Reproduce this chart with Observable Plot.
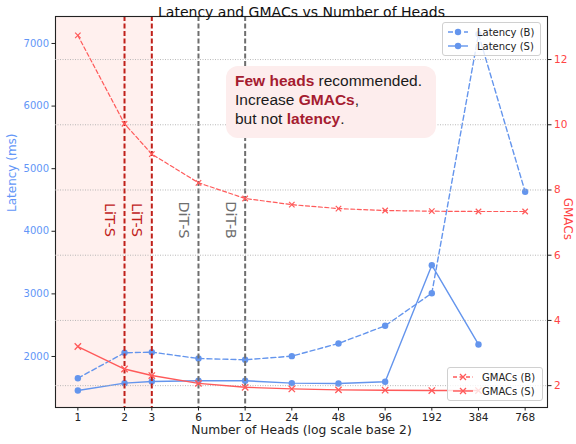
<!DOCTYPE html>
<html>
<head>
<meta charset="utf-8">
<script src="https://cdn.jsdelivr.net/npm/d3@7"></script>
<script src="https://cdn.jsdelivr.net/npm/@observablehq/plot@0.6"></script>
<style>
  html, body { margin: 0; padding: 0; background: white; }
  #wrap { position: relative; width: 576px; height: 444px; font-family: "DejaVu Sans", sans-serif; overflow: hidden; }
  #wrap > svg { position: absolute; left: 0; top: 0; }
  .legend { position: absolute; background: rgba(255,255,255,0.8); border: 1px solid #d0d0d0; border-radius: 3px;
            font: 10px "DejaVu Sans", sans-serif; color: #222; box-sizing: border-box; padding: 2px 4px; }
  .legend .row { display: flex; align-items: center; height: 14px; }
  .legend svg { margin-right: 8px; }
  #note { position: absolute; left: 226px; top: 66px; width: 210px; height: 72px; border-radius: 12px;
          background: #fdeded; box-sizing: border-box; padding: 5px 0 0 9px;
          font: 15.5px "Liberation Sans", Arial, sans-serif; line-height: 19px; color: #1a1a1a; }
  #note b { color: #a51c30; }
</style>
</head>
<body>
<div id="wrap"></div>
<script>
// ---- data ----
const heads     = [1, 2, 3, 6, 12, 24, 48, 96, 192, 384, 768];
const latencyB  = [1653, 2059, 2069, 1968, 1947, 2005, 2208, 2490, 3011, 7150, 4631];
const headsS    = [1, 2, 3, 6, 12, 24, 48, 96, 192, 384];
const latencyS  = [1457, 1574, 1601, 1612, 1612, 1574, 1569, 1596, 3459, 2192];
const gmacsB    = [12.74, 10.03, 9.1, 8.22, 7.74, 7.55, 7.43, 7.37, 7.35, 7.34, 7.34];
const gmacsS    = [3.2, 2.51, 2.31, 2.07, 1.95, 1.9, 1.87, 1.86, 1.85, 1.85];
const latTicks  = [2000, 3000, 4000, 5000, 6000, 7000];
const gmacTicks = [2, 4, 6, 8, 10, 12];
const modelX      = [2, 3, 6, 12];
const modelLabels = ["LiT-S", "LiT-S", "DiT-S", "DiT-B"];
const modelKinds  = ["lit", "lit", "dit", "dit"];
const shadeUpTo = 3;

// ---- tables ----
const latB = heads.map((h, i) => ({h, v: latencyB[i]}));
const latS = headsS.map((h, i) => ({h, v: latencyS[i]}));
const gB = heads.map((h, i) => ({h, v: gmacsB[i]}));
const gS = headsS.map((h, i) => ({h, v: gmacsS[i]}));
const models = modelX.map((x, i) => ({x, label: modelLabels[i], kind: modelKinds[i]}));

const BLUE = "#6495ED", BLUE_T = "#6296f7", RED = "#ff5a5a", RED_T = "#ff4444";
const DARKRED = "#c0201a", GREY = "#6e6e6e";
const W = 576, H = 444;
const M = {marginLeft: 55, marginRight: 29, marginTop: 16, marginBottom: 37};
const xDomain = [2 ** -0.479, 2 ** 10.064];
const xScale = {type: "log", base: 2, domain: xDomain, label: null};
const font = {fontFamily: "DejaVu Sans, sans-serif", fontSize: "10px", overflow: "visible"};

const plotLat = Plot.plot({
  width: W, height: H, ...M,
  style: {...font, background: "transparent"},
  x: xScale,
  y: {domain: [1185, 7431], label: null},
  color: {domain: ["lit", "dit"], range: [DARKRED, GREY]},
  marks: [
    Plot.rect([{x1: xDomain[0], x2: shadeUpTo}], {x1: "x1", x2: "x2", fill: "#fff0ee"}),
    Plot.line(latB, {x: "h", y: "v", stroke: BLUE, strokeWidth: 1.4, strokeDasharray: "5,3"}),
    Plot.dot(latB, {x: "h", y: "v", fill: BLUE, r: 3.2}),
    Plot.line(latS, {x: "h", y: "v", stroke: BLUE, strokeWidth: 1.4}),
    Plot.dot(latS, {x: "h", y: "v", fill: BLUE, r: 3.2}),
    Plot.ruleX(models, {x: "x", stroke: "kind", strokeWidth: 2, strokeDasharray: "5,2.5"}),
    Plot.text(models, {x: "x", frameAnchor: "middle", dx: -15, dy: 8, text: "label", rotate: 90,
      fill: "kind", fontSize: 14.5, fontFamily: "DejaVu Sans, sans-serif"}),
    Plot.axisY(latTicks, {anchor: "left", label: null, tickSize: 3.5, tickPadding: 3, stroke: "#222", fill: BLUE_T, fontSize: 10, tickFormat: d => String(d)}),
    Plot.axisX(heads, {anchor: "bottom", label: null, tickSize: 3.5, tickPadding: 3, stroke: "#222", fill: "#222", fontSize: 10.5, tickFormat: d => String(d)}),
    Plot.frame({stroke: "#222", strokeWidth: 1.1}),
    Plot.text(["Latency (ms)"], {frameAnchor: "left", dx: -43, rotate: -90, fill: BLUE_T, fontSize: 12}),
    Plot.text(["Number of Heads (log scale base 2)"], {frameAnchor: "bottom", dy: 26, fill: "#222", fontSize: 12.3}),
    Plot.text(["Latency and GMACs vs Number of Heads"], {frameAnchor: "top", dy: -9, fill: "#111", fontSize: 14})
  ]
});

const plotGmac = Plot.plot({
  width: W, height: H, ...M,
  style: {...font, background: "transparent", pointerEvents: "none"},
  x: {...xScale, axis: null},
  y: {domain: [1.33, 13.32], label: null},
  marks: [
    Plot.ruleY(gmacTicks, {stroke: "#b0b0b0", strokeWidth: 0.9, strokeDasharray: "1,1.5"}),
    Plot.line(gB, {x: "h", y: "v", stroke: RED, strokeWidth: 1.2, strokeDasharray: "4,2.5"}),
    Plot.dot(gB, {x: "h", y: "v", symbol: "times", stroke: RED, r: 2.6, strokeWidth: 1.2}),
    Plot.line(gS, {x: "h", y: "v", stroke: RED, strokeWidth: 1.4}),
    Plot.dot(gS, {x: "h", y: "v", symbol: "times", stroke: RED, r: 3, strokeWidth: 1.3}),
    Plot.axisY(gmacTicks, {anchor: "right", label: null, tickSize: 3.5, tickPadding: 3, stroke: "#222", fill: RED_T, fontSize: 10.5}),
    Plot.text(["GMACs"], {frameAnchor: "right", dx: 20, dy: 28, rotate: 90, fill: RED_T, fontSize: 12})
  ]
});

const wrap = document.getElementById("wrap");
wrap.appendChild(plotLat);
wrap.appendChild(plotGmac);

// legends
function legend(items, left, topPx, width) {
  const div = document.createElement("div");
  div.className = "legend";
  div.style.left = left + "px"; div.style.top = topPx + "px"; div.style.width = width + "px";
  for (const it of items) {
    const row = document.createElement("div");
    row.className = "row";
    const marker = it.marker === "dot"
      ? `<circle cx="11" cy="5" r="3.2" fill="${it.color}"/>`
      : `<path d="M8,2L14,8M14,2L8,8" stroke="${it.color}" stroke-width="1.3"/>`;
    row.innerHTML = `<svg width="22" height="10"><line x1="1" y1="5" x2="21" y2="5" stroke="${it.color}" stroke-width="1.4" ${it.dash ? `stroke-dasharray="${it.dash}"` : ""}/>${marker}</svg><span>${it.label}</span>`;
    div.appendChild(row);
  }
  wrap.appendChild(div);
}
legend([{label: "Latency (B)", color: BLUE, dash: "5,3", marker: "dot"},
        {label: "Latency (S)", color: BLUE, marker: "dot"}], 442, 22, 99);
legend([{label: "GMACs (B)", color: RED, dash: "4,2.5", marker: "x"},
        {label: "GMACs (S)", color: RED, marker: "x"}], 447, 367, 96);

const note = document.createElement("div");
note.id = "note";
note.innerHTML = `<b>Few heads</b> recommended.<br>Increase <b>GMACs</b>,<br>but not <b>latency</b>.`;
wrap.appendChild(note);
</script>
</body>
</html>
